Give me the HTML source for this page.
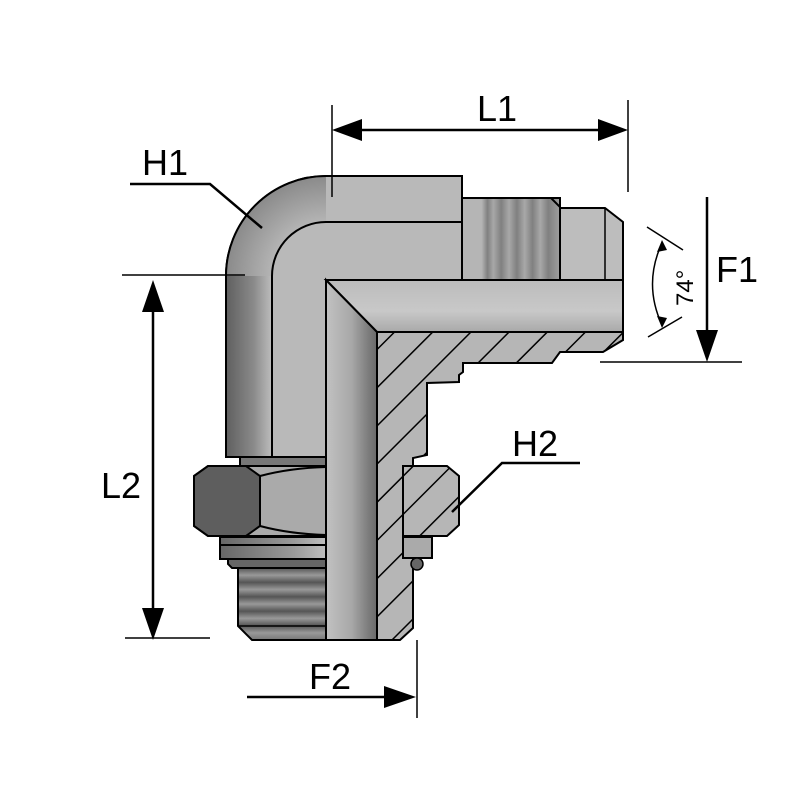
<!DOCTYPE html>
<html><head><meta charset="utf-8"><style>
html,body{margin:0;padding:0;background:#fff;}
svg{display:block}
text{font-family:"Liberation Sans",sans-serif;fill:#000}
</style></head><body>
<svg width="800" height="800" viewBox="0 0 800 800" xmlns="http://www.w3.org/2000/svg">
<defs>
<linearGradient id="gOut" x1="0" x2="1" y1="0" y2="0">
<stop offset="0" stop-color="#5f5f5f"/><stop offset="0.6" stop-color="#8a8a8a"/><stop offset="1" stop-color="#bdbdbd"/></linearGradient>
<radialGradient id="gArc" cx="326" cy="276" r="100" gradientUnits="userSpaceOnUse">
<stop offset="0.5" stop-color="#b8b8b8"/><stop offset="1" stop-color="#8a8a8a"/></radialGradient>
<linearGradient id="gVB" x1="0" x2="1" y1="0" y2="0">
<stop offset="0" stop-color="#c2c2c2"/><stop offset="0.5" stop-color="#a8a8a8"/><stop offset="0.85" stop-color="#7a7a7a"/><stop offset="1" stop-color="#6a6a6a"/></linearGradient>
<linearGradient id="gHB" x1="0" x2="0" y1="0" y2="1">
<stop offset="0" stop-color="#bcbcbc"/><stop offset="0.6" stop-color="#c8c8c8"/><stop offset="1" stop-color="#a9a9a9"/></linearGradient>
<linearGradient id="gThrR" x1="0" x2="1" y1="0" y2="0">
<stop offset="0" stop-color="#b5b5b5"/><stop offset="0.2" stop-color="#b5b5b5"/>
<stop offset="0.26" stop-color="#808080"/><stop offset="0.32" stop-color="#a8a8a8"/><stop offset="0.4" stop-color="#808080"/><stop offset="0.48" stop-color="#a8a8a8"/><stop offset="0.56" stop-color="#808080"/><stop offset="0.64" stop-color="#a8a8a8"/><stop offset="0.72" stop-color="#808080"/><stop offset="0.8" stop-color="#a8a8a8"/><stop offset="0.88" stop-color="#808080"/><stop offset="1" stop-color="#a0a0a0"/></linearGradient>
<linearGradient id="gThrB" x1="0" x2="0" y1="0" y2="1">
<stop offset="0" stop-color="#555"/><stop offset="0.1" stop-color="#999"/><stop offset="0.2" stop-color="#555"/><stop offset="0.3" stop-color="#999"/><stop offset="0.4" stop-color="#555"/><stop offset="0.5" stop-color="#999"/><stop offset="0.6" stop-color="#555"/><stop offset="0.7" stop-color="#999"/><stop offset="0.8" stop-color="#555"/><stop offset="0.9" stop-color="#999"/><stop offset="1" stop-color="#777"/></linearGradient>
<linearGradient id="gHz" x1="0" x2="1" y1="0" y2="0">
<stop offset="0" stop-color="#666"/><stop offset="0.7" stop-color="#9a9a9a"/><stop offset="1" stop-color="#c0c0c0"/></linearGradient>
<pattern id="hatch" patternUnits="userSpaceOnUse" width="27" height="27" patternTransform="rotate(45)">
<rect width="27" height="27" fill="#b6b6b6"/><line x1="0" y1="0" x2="0" y2="27" stroke="#000" stroke-width="3"/></pattern>
</defs>

<path d="M226,457 L226,276 A100,100 0 0 1 326,176 L462,176 L462,280 L326,280 L326,457 Z" fill="#b9b9b9" stroke="#000" stroke-width="2"/>
<path d="M226,457 L226,276 A100,100 0 0 1 326,176 L326,222 A54,54 0 0 0 272,276 L272,457 Z" fill="url(#gArc)"/>
<rect x="226" y="276" width="46" height="181" fill="url(#gOut)"/>
<path d="M226,457 L226,276 A100,100 0 0 1 326,176 L462,176" fill="none" stroke="#000" stroke-width="2"/>
<path d="M272,457 L272,276 A54,54 0 0 1 326,222 L462,222" fill="none" stroke="#000" stroke-width="2"/>
<line x1="226" y1="457" x2="326" y2="457" stroke="#000" stroke-width="2"/>

<rect x="462" y="198" width="98" height="82" fill="url(#gThrR)" stroke="#000" stroke-width="2"/>
<path d="M462,198 L551,198 L560,207 L560,280" fill="none" stroke="#000" stroke-width="2"/>
<path d="M560,208 L605,208 L623,222 L623,280 L560,280 Z" fill="#bdbdbd" stroke="#000" stroke-width="2"/>
<line x1="605" y1="208" x2="605" y2="280" stroke="#000" stroke-width="1.5"/>

<rect x="240" y="457" width="86" height="10" fill="#777" stroke="#000" stroke-width="2"/>
<path d="M194,476 L208,466 L326,466 L326,536 L208,536 L194,526 Z" fill="#aaa" stroke="#000" stroke-width="2"/>
<path d="M208,466 L246,466 L260,476 L260,526 L246,536 L208,536 L194,526 L194,476 Z" fill="#5e5e5e" stroke="#000" stroke-width="2"/>
<path d="M260,476 Q290,468 326,467 M260,526 Q290,534 326,535" fill="none" stroke="#000" stroke-width="2"/>
<rect x="220" y="537" width="106" height="22" fill="url(#gHz)" stroke="#000" stroke-width="2"/>
<line x1="220" y1="545" x2="326" y2="545" stroke="#000" stroke-width="2"/>
<path d="M228,559 L228,564 L232,568 L326,568 L326,559 Z" fill="#666" stroke="#000" stroke-width="2"/>
<path d="M238,568 L326,568 L326,640 L252,640 L238,626 Z" fill="url(#gThrB)" stroke="#000" stroke-width="2"/>
<line x1="238" y1="626" x2="326" y2="626" stroke="#000" stroke-width="1.5"/>

<path d="M326,280 L623,280 L623,332 L377,332 Z" fill="url(#gHB)" stroke="#000" stroke-width="2"/>
<path d="M326,280 L377,332 L377,640 L326,640 Z" fill="url(#gVB)" stroke="#000" stroke-width="2"/>

<path d="M377,332 L623,332 L623,340 L603,352 L560,352 L552,363 L463,363 L463,372 L459,375 L459,382 L427,383 L427,455 L413,458 L413,628 L400,640 L377,640 Z" fill="url(#hatch)" stroke="#000" stroke-width="2"/>
<path d="M403,466 L447,466 L459,476 L459,525 L447,536 L403,536 Z" fill="url(#hatch)" stroke="#000" stroke-width="2"/>
<rect x="403" y="537" width="29" height="21" fill="#aaa" stroke="#000" stroke-width="2"/>
<circle cx="417" cy="564" r="6" fill="#666" stroke="#000" stroke-width="1.5"/>

<g stroke="#000" stroke-width="1.5" fill="none">
<line x1="332" y1="105" x2="332" y2="197"/>
<line x1="628" y1="100" x2="628" y2="192"/>
<line x1="350" y1="130" x2="610" y2="130" stroke-width="2.5"/>
<line x1="707" y1="197" x2="707" y2="340" stroke-width="2.5"/>
<line x1="600" y1="362" x2="742" y2="362"/>
<line x1="122" y1="275" x2="245" y2="275"/>
<line x1="125" y1="638" x2="210" y2="638"/>
<line x1="153" y1="300" x2="153" y2="620" stroke-width="2.5"/>
<line x1="417" y1="640" x2="417" y2="718"/>
<line x1="247" y1="697" x2="395" y2="697" stroke-width="2.5"/>
<path d="M130,184 L210,184 L262,228" stroke-width="2.5"/>
<path d="M580,463 L502,463 L452,512" stroke-width="2.5"/>
<line x1="647" y1="227" x2="683" y2="250"/>
<line x1="648" y1="337" x2="682" y2="317"/>
<path d="M662,243 Q643,284 662,325"/>
</g>
<g fill="#000">
<polygon points="332,130 362,119 362,141"/>
<polygon points="628,130 598,119 598,141"/>
<polygon points="707,362 696,330 718,330"/>
<polygon points="153,280 142,312 164,312"/>
<polygon points="153,640 142,608 164,608"/>
<polygon points="416,697 384,686 384,708"/>
<polygon points="662,240 657,252 667,250"/>
<polygon points="662,328 657,316 667,318"/>
</g>

<text x="477" y="121" font-size="36">L1</text>
<text x="142" y="175" font-size="36">H1</text>
<text x="716" y="282" font-size="36">F1</text>
<text x="101" y="498" font-size="36">L2</text>
<text x="512" y="456" font-size="36">H2</text>
<text x="309" y="689" font-size="36">F2</text>
<text transform="translate(693,306) rotate(-90)" font-size="24">74°</text>
</svg>
</body></html>
